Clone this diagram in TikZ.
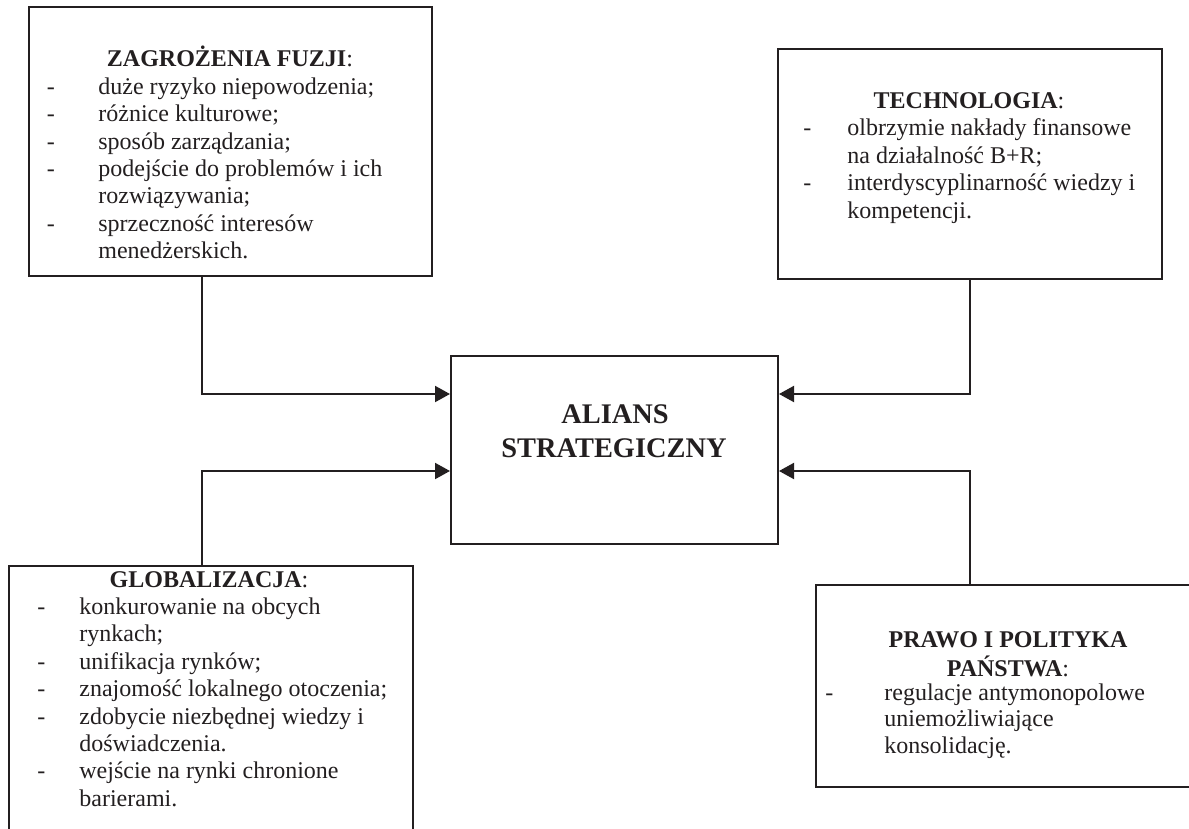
\documentclass[tikz,border=0pt]{standalone}
\usepackage{fontspec}
\setmainfont{Liberation Serif}
\usetikzlibrary{arrows.meta,fit}
\definecolor{ink}{RGB}{35,31,32}
\tikzset{
  box/.style={draw=ink, line width=1pt, inner sep=0pt, rectangle},
  conn/.style={draw=ink, line width=1pt, -{Triangle[length=7.5pt,width=8pt]}},
  ttl/.style={anchor=base, inner sep=0pt, text=ink, font=\fontsize{12}{13.7}\selectfont},
  lst/.style={anchor=base west, inner sep=0pt, text=ink},
  big/.style={anchor=base, inner sep=0pt, text=ink, font=\fontsize{14.2}{17}\selectfont\bfseries}
}
\begin{document}
\begin{tikzpicture}[x=0.5pt,y=-0.5pt]
\useasboundingbox (0,0) rectangle (1189,829);
\clip (0,0) rectangle (1189,829);
\fill[white] (0,0) rectangle (1189,829);

% boxes
\node[box, fit={(29,7) (432,276)}] (zag) {};
\node[box, fit={(778,49) (1162,279)}] (tech) {};
\node[box, fit={(451,356) (778,544)}] (alians) {};
\node[box, fit={(9,566) (413,850)}] (glob) {};
\node[box, fit={(816,585) (1200,787)}] (prawo) {};

% central text
\node[big] (aliansA) at (615,423) {ALIANS};
\node[big] (aliansB) at (614,457) {STRATEGICZNY};

% ZAGROZENIA
\node[ttl] (zagT) at (230,66.7) {\textbf{ZAGROŻENIA FUZJI}:};
\node[lst, font=\fontsize{12}{13.72}\selectfont] (zagL) at (46.5,94.2) {%
\begin{tabular}[t]{@{}p{25.75pt}@{}l@{}}
-& duże ryzyko niepowodzenia;\\
-& różnice kulturowe;\\
-& sposób zarządzania;\\
-& podejście do problemów i ich\\
 & rozwiązywania;\\
-& sprzeczność interesów\\
 & menedżerskich.
\end{tabular}};

% TECHNOLOGIA
\node[ttl] (techT) at (969,108.3) {\textbf{TECHNOLOGIA}:};
\node[lst, font=\fontsize{12}{13.75}\selectfont] (techL) at (803,135.8) {%
\begin{tabular}[t]{@{}p{22pt}@{}l@{}}
-& olbrzymie nakłady finansowe\\
 & na działalność B+R;\\
-& interdyscyplinarność wiedzy i\\
 & kompetencji.
\end{tabular}};

% GLOBALIZACJA
\node[ttl] (globT) at (209,587) {\textbf{GLOBALIZACJA}:};
\node[lst, font=\fontsize{12}{13.7}\selectfont] (globL) at (37,614.4) {%
\begin{tabular}[t]{@{}p{21pt}@{}l@{}}
-& konkurowanie na obcych\\
 & rynkach;\\
-& unifikacja rynków;\\
-& znajomość lokalnego otoczenia;\\
-& zdobycie niezbędnej wiedzy i\\
 & doświadczenia.\\
-& wejście na rynki chronione\\
 & barierami.
\end{tabular}};

% PRAWO
\node[ttl, font=\fontsize{12}{13.2}\selectfont] (prawoT) at (1008,647.5) {%
\begin{tabular}[t]{@{}c@{}}
\textbf{PRAWO I POLITYKA}\\
\textbf{PAŃSTWA}:
\end{tabular}};
\node[lst, font=\fontsize{12}{13.2}\selectfont] (prawoL) at (825,700.3) {%
\begin{tabular}[t]{@{}p{29.5pt}@{}l@{}}
-& regulacje antymonopolowe\\
 & uniemożliwiające\\
 & konsolidację.
\end{tabular}};

% connectors
\coordinate (k1) at (202,394);
\coordinate (k2) at (970,394);
\coordinate (k3) at (202,471);
\coordinate (k4) at (970,471);
\draw[conn] (k1 |- zag.south) -- (k1) -- (k1 -| alians.west);
\draw[conn] (k2 |- tech.south) -- (k2) -- (k2 -| alians.east);
\draw[conn] (k3 |- glob.north) -- (k3) -- (k3 -| alians.west);
\draw[conn] (k4 |- prawo.north) -- (k4) -- (k4 -| alians.east);
\end{tikzpicture}
\end{document}
